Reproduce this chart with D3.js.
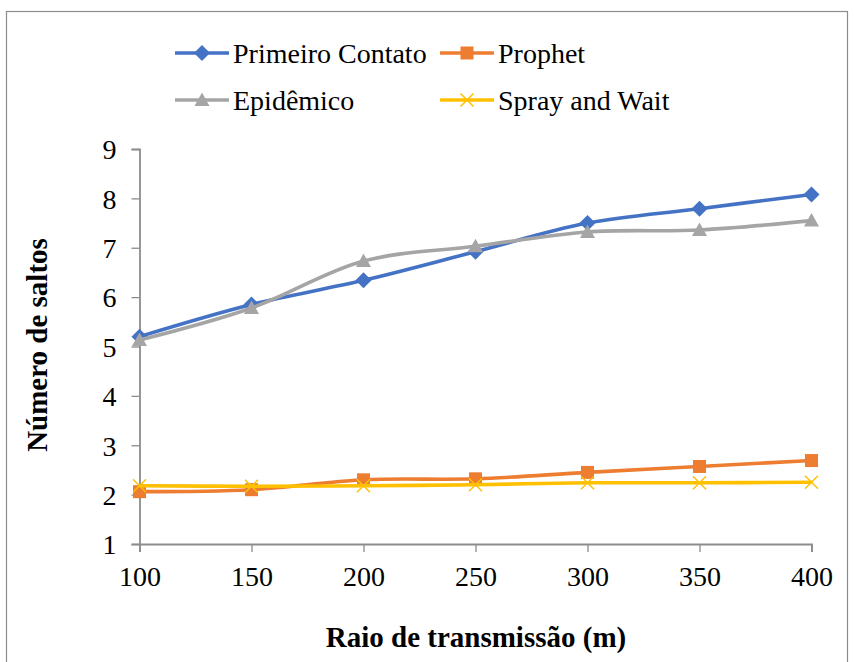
<!DOCTYPE html>
<html>
<head>
<meta charset="utf-8">
<script src="https://cdn.jsdelivr.net/npm/d3@7"></script>
<style>
  body { margin: 0; background: #fff; }
</style>
</head>
<body>
<div id="chart"></div>
<script>
// chart data
const raios = [100, 150, 200, 250, 300, 350, 400];
const primeiroContato = [5.2, 5.85, 6.34, 6.92, 7.5, 7.79, 8.08];
const prophet = [2.06, 2.1, 2.3, 2.32, 2.45, 2.57, 2.69];
const epidemico = [5.13, 5.78, 6.73, 7.03, 7.32, 7.36, 7.55];
const sprayAndWait = [2.18, 2.17, 2.18, 2.2, 2.24, 2.24, 2.25];
const yTicks = [1, 2, 3, 4, 5, 6, 7, 8, 9];

const series = [
  { name: 'Primeiro Contato', values: primeiroContato, color: '#4472C4', marker: 'diamond' },
  { name: 'Prophet', values: prophet, color: '#ED7D31', marker: 'square' },
  { name: 'Epidêmico', values: epidemico, color: '#A5A5A5', marker: 'triangle' },
  { name: 'Spray and Wait', values: sprayAndWait, color: '#FFC000', marker: 'cross' }
];

const width = 854;
const height = 662;
const axisColor = '#8c8c8c';
const serif = "'Liberation Serif', 'Times New Roman', Times, 'DejaVu Serif', serif";

const svg = d3.select('#chart').append('svg')
  .attr('width', width)
  .attr('height', height)
  .style('font-family', serif)

// outer frame
svg.append('rect')
  .attr('x', 6.5).attr('y', 11.5)
  .attr('width', 841).attr('height', 670)
  .attr('fill', 'none')
  .attr('stroke', '#8c8c8c')
  .attr('stroke-width', 1.2)

const x = d3.scaleLinear().domain([100, 400]).range([139.5, 811.5]);
const y = d3.scaleLinear().domain([1, 9]).range([544, 149]);

// y axis
const yAxis = svg.append('g')
  .attr('transform', `translate(${x(100)},0)`)
  .call(d3.axisLeft(y).tickValues(yTicks).tickSize(8).tickPadding(15).tickFormat(d3.format('d')))
yAxis.attr('font-family', null).attr('font-size', null)
yAxis.select('.domain').attr('stroke', axisColor).attr('stroke-width', 1.8)
yAxis.selectAll('.tick line').attr('stroke', axisColor).attr('stroke-width', 1.3)
yAxis.selectAll('text').style('font-family', serif).style('font-size', '28px').attr('fill', '#000').attr('dy', '0.35em')

// x axis
const xAxis = svg.append('g')
  .attr('transform', `translate(0,${y(1)})`)
  .call(d3.axisBottom(x).tickValues(raios).tickSize(8).tickPadding(14).tickFormat(d3.format('d')))
xAxis.attr('font-family', null).attr('font-size', null)
xAxis.select('.domain').attr('stroke', axisColor).attr('stroke-width', 1.8)
xAxis.selectAll('.tick line').attr('stroke', axisColor).attr('stroke-width', 1.3)
xAxis.selectAll('text').style('font-family', serif).style('font-size', '28px').attr('fill', '#000').attr('dy', '0.71em')

// axis titles
svg.append('text')
  .attr('x', 476).attr('y', 647)
  .attr('text-anchor', 'middle')
  .style('font-family', serif)
  .style('font-size', '29px').style('font-weight', 'bold')
  .text('Raio de transmissão (m)')

svg.append('text')
  .attr('transform', 'translate(47,345) rotate(-90)')
  .attr('text-anchor', 'middle')
  .style('font-family', serif)
  .style('font-size', '29px').style('font-weight', 'bold')
  .text('Número de saltos')

const drawMarker = (g, type, color) => {
  if (type === 'diamond') {
    g.append('path').attr('d', 'M0,-8L8,0L0,8L-8,0Z').attr('fill', color)
  } else if (type === 'square') {
    g.append('rect').attr('x', -6.5).attr('y', -6.5).attr('width', 13).attr('height', 13).attr('fill', color)
  } else if (type === 'triangle') {
    g.append('path').attr('d', 'M0,-7.5L7.5,6L-7.5,6Z').attr('fill', color)
  } else {
    g.append('path').attr('d', 'M-6.5,-6.5L6.5,6.5M-6.5,6.5L6.5,-6.5')
      .attr('stroke', color).attr('stroke-width', 1.5).attr('fill', 'none')
  }
}

const line = d3.line()
  .x((d, i) => x(raios[i]))
  .y(d => y(d))
  .curve(d3.curveCatmullRom.alpha(0.5))

series.forEach(s => {
  svg.append('path')
    .datum(s.values)
    .attr('fill', 'none')
    .attr('stroke', s.color)
    .attr('stroke-width', 3.6)
    .attr('stroke-linejoin', 'round')
    .attr('d', line)

  s.values.forEach((v, i) => {
    const g = svg.append('g').attr('transform', `translate(${x(raios[i])},${y(v)})`)
    drawMarker(g, s.marker, s.color)
  })
})

// legend
const legendPos = [
  { x: 175, y: 53 },
  { x: 440, y: 53 },
  { x: 175, y: 100 },
  { x: 440, y: 100 }
];
series.forEach((s, i) => {
  const p = legendPos[i];
  const g = svg.append('g').attr('transform', `translate(${p.x},${p.y})`)
  g.append('line')
    .attr('x1', 0).attr('x2', 54)
    .attr('stroke', s.color).attr('stroke-width', 3.6)
  const m = g.append('g').attr('transform', 'translate(27,0)')
  drawMarker(m, s.marker, s.color)
  g.append('text')
    .attr('x', 58).attr('dy', '0.35em')
    .style('font-family', serif)
    .style('font-size', '28px')
    .text(s.name)
})
</script>
</body>
</html>
